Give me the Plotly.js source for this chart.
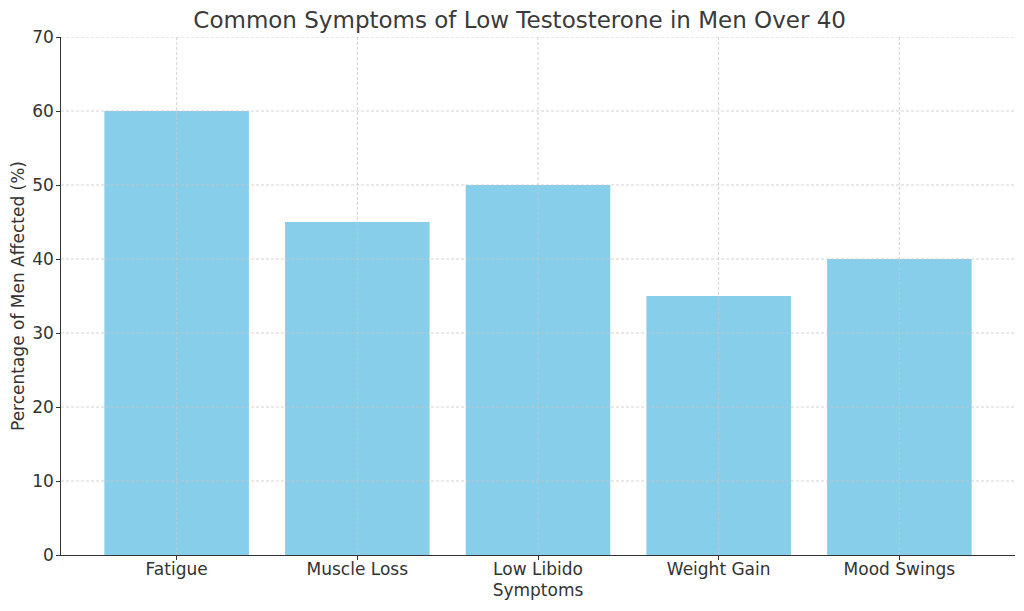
<!DOCTYPE html>
<html>
<head>
<meta charset="utf-8">
<script src="https://cdn.plot.ly/plotly-3.0.1.min.js"></script>
<style>
  html, body { margin: 0; padding: 0; background: #fff; }
  #chart { width: 1024px; height: 611px; }
</style>
</head>
<body>
<div id="chart"></div>
<script>
"use strict"

// data
let symptoms = ['Fatigue', 'Muscle Loss', 'Low Libido', 'Weight Gain', 'Mood Swings'];
let percentAffected = [60, 45, 50, 35, 40];
let yTicks = [0, 10, 20, 30, 40, 50, 60, 70];

let textColor = '#333333',
	gridColor = '#c8c8c8',
	barColor = '#87ceeb';

let positions = symptoms.map((s, i) => i);

let trace = {
	x: positions,
	y: percentAffected,
	type: 'bar',
	width: 0.8,
	marker: {color: barColor, line: {width: 0}},
	hoverinfo: 'x+y'
};

// grid drawn as shapes so it sits above the bars, like the matplotlib original
let gridLine = {color: gridColor, width: 0.8, dash: '3px,2px'};
let shapes = [];
for(let i=0;i<positions.length;i++){
	shapes.push({type: 'line', layer: 'above', xref: 'x', yref: 'paper',
		x0: positions[i], x1: positions[i], y0: 0, y1: 1, line: gridLine});
}
for(let i=1;i<yTicks.length;i++){
	shapes.push({type: 'line', layer: 'above', xref: 'paper', yref: 'y',
		x0: 0, x1: 1, y0: yTicks[i], y1: yTicks[i], line: gridLine});
}

let layout = {
	width: 1024,
	height: 611,
	paper_bgcolor: '#ffffff',
	plot_bgcolor: '#ffffff',
	font: {family: 'DejaVu Sans', size: 17, color: textColor},
	margin: {l: 61, r: 9, t: 37, b: 56, pad: 0},
	showlegend: false,
	shapes: shapes,
	title: {
		text: 'Common Symptoms of Low Testosterone in Men Over 40',
		font: {family: 'DejaVu Sans', size: 23, color: '#3a3a3a'},
		x: 0.5075,
		xanchor: 'center',
		y: 0.967,
		yanchor: 'middle'
	},
	xaxis: {
		range: [-0.64, 4.64],
		tickmode: 'array',
		tickvals: positions,
		ticktext: symptoms,
		ticks: 'outside',
		ticklen: 3.5,
		tickwidth: 1,
		tickcolor: textColor,
		ticklabelstandoff: -5,
		showline: true,
		linecolor: textColor,
		linewidth: 1.3,
		showgrid: false,
		zeroline: false,
		layer: 'above traces',
		title: {text: 'Symptoms', font: {size: 17, color: textColor}, standoff: 6}
	},
	yaxis: {
		range: [0, 70],
		tickmode: 'array',
		tickvals: yTicks,
		ticks: 'outside',
		ticklen: 3.5,
		tickwidth: 1,
		tickcolor: textColor,
		ticklabelstandoff: -1,
		showline: true,
		linecolor: textColor,
		linewidth: 1.3,
		showgrid: false,
		zeroline: false,
		layer: 'above traces',
		title: {text: 'Percentage of Men Affected (%)', font: {size: 17, color: textColor}, standoff: 3}
	}
};

Plotly.newPlot('chart', [trace], layout, {displayModeBar: false, staticPlot: true});
</script>
</body>
</html>
